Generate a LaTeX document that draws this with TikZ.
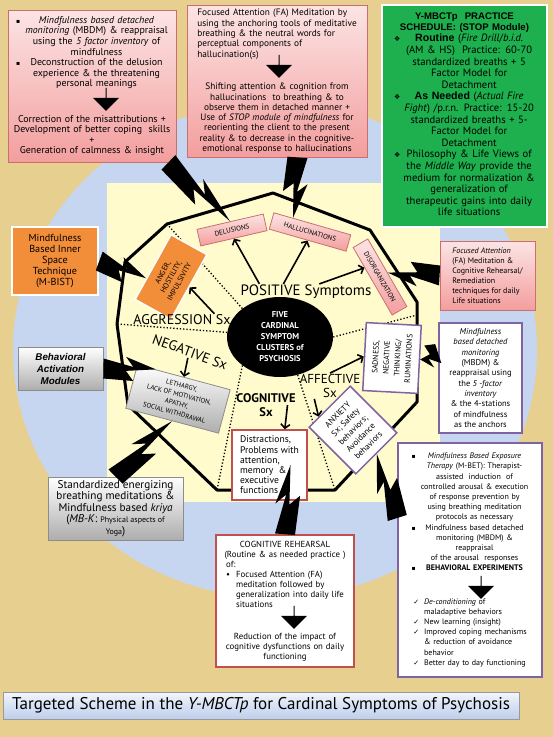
\documentclass[tikz,border=0pt]{standalone}
\usepackage{fontspec}
\setmainfont{PT Sans}
\newfontfamily\glyphfont{DejaVu Sans}
\newfontfamily\arialfont{Liberation Sans}
\usetikzlibrary{arrows.meta, positioning, calc, shapes.geometric, shapes.arrows}

\definecolor{papyrus}{RGB}{231,207,143}
\definecolor{skyblue}{RGB}{198,214,241}
\definecolor{paleyellow}{RGB}{255,251,204}
\definecolor{pinklight}{RGB}{252,228,228}
\definecolor{pinkdark}{RGB}{243,158,158}
\definecolor{pinkline}{RGB}{205,110,110}
\definecolor{leafgreen}{RGB}{30,176,78}
\definecolor{carrot}{RGB}{242,142,58}
\definecolor{lilac}{RGB}{128,100,162}
\definecolor{brick}{RGB}{192,80,77}
\definecolor{titleblue}{RGB}{190,206,236}

\newcommand{\sqb}{{\glyphfont\fontsize{6}{6}\selectfont ▪}}
\newcommand{\diam}{{\glyphfont\fontsize{7}{7}\selectfont ❖}}
\newcommand{\chk}{{\glyphfont\fontsize{7}{7}\selectfont ✓}}

% lightning bolt from #1 to #2
\newcommand{\zap}[2]{%
  \fill ($(#1)!10pt!90:(#2)$) -- ($(#1)!0.57!(#2)!2pt!90:(#2)$)
    -- ($(#1)!0.43!(#2)!12pt!90:(#2)$) -- (#2)
    -- ($(#1)!0.43!(#2)!-2pt!90:(#2)$) -- ($(#1)!0.57!(#2)!-12pt!90:(#2)$)
    -- ($(#1)!-10pt!90:(#2)$) -- cycle;}

\begin{document}
\begin{tikzpicture}[x=1pt, y=-1pt, >={Straight Barb[length=4pt,width=9pt]},
  plainbox/.style={rectangle, align=center, inner sep=3pt, text=black},
  pinkbox/.style={plainbox, draw=pinkline, line width=0.8pt, top color=pinklight, bottom color=pinkdark},
  symtag/.style={pinkbox, inner sep=2pt, minimum height=17pt, font=\fontsize{7}{8}\selectfont},
  greybox/.style={plainbox, draw=black!45, line width=0.8pt, top color=white, bottom color=black!32},
  whitebox/.style={plainbox, fill=white, draw=#1, line width=1.5pt},
  sxlabel/.style={font=\fontsize{14}{16}\selectfont, inner sep=1pt},
  sxarrow/.style={->, line width=1.6pt},
  sector/.style={dotted, line width=1.3pt},
  downarr/.style={single arrow, fill=black, shape border rotate=270, minimum height=23pt,
    minimum width=26pt, single arrow head extend=5pt, inner sep=0pt},
]
  % Background
  \fill[papyrus] (0,0) rectangle (553,737);
  \useasboundingbox (0,0) rectangle (553,737);
  \fill[skyblue] (275,350) ellipse [x radius=262pt, y radius=248pt];
  \fill[paleyellow] (107,183) rectangle (440,502);

  % Octagon
  \coordinate (o1) at (167,224);
  \coordinate (o2) at (273,193);
  \coordinate (o3) at (370,230);
  \coordinate (o4) at (417,302);
  \coordinate (o5) at (417,402);
  \coordinate (o6) at (335,490);
  \coordinate (o7) at (217,490);
  \coordinate (o8) at (128,405);
  \coordinate (o9) at (117,324);
  \coordinate (o10) at (125,262);
  \coordinate (e4) at ($(o4)!0.13!(o5)$);
  \draw[line width=3pt, line join=round] (o1) -- (o2) -- (o3) -- (o4) -- (o5) -- (o6) -- (o7) -- (o8) -- (o9) -- (o10) -- cycle;

  % Centre
  \node[ellipse, fill=black, minimum width=106pt, minimum height=80pt, inner sep=0pt, text=white,
    align=center, font=\bfseries\fontsize{8.5}{11}\selectfont] (core) at (280,337)
    {FIVE\\CARDINAL\\SYMPTOM\\CLUSTERS of\\PSYCHOSIS};
  \draw[sector] (core.north west) -- (o1);
  \draw[sector] (core.175) -- (o9);
  \draw[sector] (core.east) -- (e4);
  \draw[sector] (core.south west) -- (o7);
  \draw[sector] (core.-65) -- (o6);

  % Symptom boxes
  \node[symtag, minimum width=68pt, rotate=13] (delus) at (232,230) {DELUSIONS};
  \node[symtag, minimum width=80pt, rotate=-16] (halluc) at (310,232) {HALLUCINATIONS};
  \node[symtag, minimum width=78pt, rotate=-60] (disorg) at (380,277) {DISORGANIZATION};
  \node[plainbox, fill=carrot, draw=white, line width=1.5pt, minimum width=74pt, minimum height=41pt,
    rotate=61, font=\fontsize{7.5}{9.5}\selectfont] (anger) at (171,277) {ANGER,\\HOSTILITY,\\IMPULSIVITY};
  \node[greybox, minimum width=96pt, minimum height=45pt, rotate=-15, font=\fontsize{6.8}{9.5}\selectfont]
    (leth) at (178,399) {LETHARGY,\\LACK OF MOTIVATION,\\APATHY,\\SOCIAL WITHDRAWAL};
  \node[whitebox=lilac, minimum width=68pt, minimum height=55pt, rotate=87, font=\fontsize{7.8}{11}\selectfont]
    (sad) at (392,358) {SADNESS,\\NEGATIVE\\THINKING/\\RUMINATIONS};
  \node[whitebox=lilac, minimum width=58pt, minimum height=66pt, rotate=45, font=\fontsize{8.5}{10.8}\selectfont]
    (anx) at (353,430) {ANXIETY\\Sx; Safety\\behaviors;\\Avoidance\\behaviors};
  \node[whitebox=brick, minimum width=75pt, minimum height=70pt, align=left, font=\fontsize{9.6}{10.2}\selectfont]
    (distr) at (269.5,465) {Distractions,\\Problems with\\attention,\\memory\ \ \&\\executive\\functions};

  % Cluster labels
  \node[sxlabel, font=\fontsize{15}{17}\selectfont] (pos) at (306,292) {POSITIVE Symptoms};
  \node[sxlabel] (aggr) at (182,320) {AGGRESSION Sx};
  \node[sxlabel, rotate=-20] (neg) at (190,352) {NEGATIVE Sx};
  \node[sxlabel, align=center, font=\bfseries\fontsize{12.5}{14}\selectfont] (cog) at (266,405) {COGNITIVE\\Sx};
  \node[sxlabel, align=center, font=\fontsize{13}{14}\selectfont] (aff) at (330,386) {AFFECTIVE\\Sx};

  % Arrows
  \draw[sxarrow] ($(pos.north west)!0.15!(pos.north east)$) -- (delus.south);
  \draw[sxarrow] ($(pos.north west)!0.33!(pos.north east)$) -- (halluc.south);
  \draw[sxarrow] ($(pos.north west)!0.6!(pos.north east)$) -- ($(disorg.south)!0.4!(disorg.south west)$);
  \draw[sxarrow] ($(aggr.north)!0.65!(aggr.north east)$) -- (anger.south);
  \draw[sxarrow] (neg.south) -- (leth.north);
  \draw[sxarrow] ($(cog.center)!0.7!(cog.east)$) -- ($(distr.north)!0.4!(distr.north east)$);
  \draw[sxarrow] (aff.north) -- (sad.north);
  \draw[sxarrow] ($(aff.south)!0.5!(aff.south west)$) -- ($(anx.north)!0.5!(anx.north west)$);

  % Outer boxes
  \node[pinkbox, minimum width=168pt, minimum height=152pt, text width=162pt, inner sep=2pt,
    font=\fontsize{9.9}{10.6}\selectfont] (delbox) at (92,86) {%
    \begin{tabular}{@{}l@{\hspace{5pt}}c@{}}
    \sqb & \textit{Mindfulness based detached}\\
     & \textit{monitoring} (MBDM) \& reappraisal\\
     & using the \textit{5 factor inventory} of\\
     & mindfulness\\
    \sqb & Deconstruction of the delusion\\
     & experience \& the threatening\\
     & personal meanings
    \end{tabular}\\[24pt]
    Correction of the misattributions +\\
    Development of better coping\ \ skills\\
    +\\
    Generation of calmness \& insight};
  \node[downarr] (darrA) at (106,99) {};

  \node[pinkbox, minimum width=180pt, minimum height=152pt, text width=176pt, inner sep=2pt,
    font=\fontsize{9.3}{10.3}\selectfont] (hallbox) at (277,81) {%
    \begin{tabular}{@{}l@{}}
    Focused Attention (FA) Meditation by\\
    using the anchoring tools of meditative\\
    breathing \& the neutral words for\\
    perceptual components of\\
    hallucination(s)
    \end{tabular}\\[22pt]
    Shifting attention \& cognition from\\
    hallucinations\ \ to breathing \& to\\
    observe them in detached manner +\\
    Use of \textit{STOP module of mindfulness} for\\
    reorienting the client to the present\\
    reality \& to decrease in the cognitive-\\
    emotional response to hallucinations};
  \node[downarr] (darrB) at (279,66) {};

  \node[plainbox, fill=leafgreen, draw=white, line width=2.5pt, inner sep=2pt, minimum width=165pt,
    minimum height=222pt, text width=158pt, font=\fontsize{10.6}{11.6}\selectfont] (sched) at (464.5,116) {%
    {\arialfont\bfseries\fontsize{9.6}{12}\selectfont Y-MBCTp\ \ PRACTICE\\SCHEDULE: (STOP Module)}\\
    \begin{tabular}{@{}l@{\hspace{3pt}}c@{}}
    \diam & {\arialfont\bfseries Routine} (\textit{Fire Drill}/\textit{b.i.d.}\\
     & (AM \& HS)\ \ Practice: 60-70\\
     & standardized breaths + 5\\
     & Factor Model for\\
     & Detachment\\
    \diam & {\arialfont\bfseries As Needed} (\textit{Actual Fire}\\
     & \textit{Fight}) /p.r.n. Practice: 15-20\\
     & standardized breaths + 5-\\
     & Factor Model for\\
     & Detachment\\
    \diam & Philosophy \& Life Views of\\
     & the \textit{Middle Way} provide the\\
     & medium for normalization \&\\
     & generalization of\\
     & therapeutic gains into daily\\
     & life situations
    \end{tabular}};

  \node[plainbox, fill=carrot, draw=white, line width=2.5pt, minimum width=86pt, minimum height=68pt,
    font=\fontsize{10.2}{11}\selectfont] (mbist) at (55,261) {Mindfulness\\Based Inner\\Space\\Technique\\(M-BIST)};
  \node[greybox, minimum width=85pt, minimum height=43pt, font=\arialfont\bfseries\itshape\fontsize{9.8}{12}\selectfont]
    (behav) at (60.5,368.5) {Behavioral\\Activation\\Modules};
  \node[greybox, minimum width=135pt, minimum height=63pt, font=\fontsize{11.2}{11.5}\selectfont] (energ) at (115.5,508.5)
    {Standardized energizing\\breathing meditations \&\\Mindfulness based \textit{kriya}\\
     (\textit{MB-K}: {\fontsize{8}{10}\selectfont Physical aspects of}\\{\fontsize{8}{10}\selectfont Yoga})};
  \node[pinkbox, minimum width=95pt, minimum height=69pt, align=left, font=\fontsize{8}{10}\selectfont]
    (fabox) at (487.5,275.5) {\textit{Focused Attention}\\(FA) Meditation \&\\Cognitive Rehearsal/\\Remediation\\
     techniques for daily\\Life situations};
  \node[whitebox=lilac, minimum width=83pt, minimum height=110pt, font=\fontsize{8.5}{10.3}\selectfont]
    (mbdm) at (480.5,378) {\textit{Mindfulness}\\\textit{based detached}\\\textit{monitoring}\\(MBDM) \&\\
     reappraisal using\\the \textit{5 -factor}\\\textit{inventory}\\\& the 4-stations\\of mindfulness\\as the anchors};

  \node[whitebox=lilac, minimum width=144pt, minimum height=234pt, text width=138pt, inner sep=2pt,
    font=\fontsize{8}{10.2}\selectfont] (mbet) at (470,560) {%
    \begin{tabular}{@{}l@{\hspace{5pt}}c@{}}
    \sqb & \textit{Mindfulness Based Exposure}\\
     & \textit{Therapy} (M-BET): Therapist-\\
     & assisted\ \ induction\ \ of\\
     & controlled arousal \& execution\\
     & of response prevention by\\
     & using breathing meditation\\
     & protocols as necessary\\
    \sqb & Mindfulness based detached\\
     & monitoring (MBDM) \&\\
     & reappraisal\\
     & of the arousal\ \ responses\\
    \sqb & \textbf{BEHAVIORAL EXPERIMENTS}
    \end{tabular}\\[22pt]
    \begin{tabular}{@{}l@{\hspace{5pt}}l@{}}
    \chk & \textit{De-conditioning} of\\
     & maladaptive behaviors\\
    \chk & New learning (insight)\\
    \chk & Improved coping mechanisms\\
     & \& reduction of avoidance\\
     & behavior\\
    \chk & Better day to day functioning
    \end{tabular}};
  \node[downarr] (darrC) at (481,587) {};

  \node[whitebox=brick, minimum width=138pt, minimum height=132pt, text width=132pt, inner sep=2pt,
    font=\fontsize{8.8}{10}\selectfont] (rehearse) at (285,601) {%
    COGNITIVE REHEARSAL\\
    (Routine \& as needed practice )\\
    \begin{tabular}{@{}l@{\hspace{6pt}}l@{}}
    \multicolumn{2}{@{}l}{of:}\\
    \textbullet & Focused Attention (FA)\\
     & meditation followed by\\
     & generalization into daily life\\
     & situations
    \end{tabular}\\[22pt]
    Reduction of the impact of\\cognitive dysfunctions on daily\\functioning};
  \node[downarr] (darrD) at (294,617) {};

  % Bolts
  \coordinate (hallTip) at ($(halluc.north)!0.5!(halluc.north west)$);
  \coordinate (angTip) at ($(anger.north)!0.35!(anger.north west)$);
  \coordinate (lethTip) at ($(leth.north)!0.6!(leth.north west)$);
  \coordinate (distTip) at ($(distr.center)!0.55!(distr.east)$);
  \zap{delbox.-45}{delus.north}
  \zap{hallbox.-75}{hallTip}
  \zap{fabox.west}{disorg.north}
  \zap{mbist.east}{angTip}
  \zap{behav.east}{lethTip}
  \zap{energ.north}{leth.south}
  \zap{mbdm.150}{sad.south}
  \zap{mbet.150}{anx.south}
  \zap{rehearse.north}{distTip}

  % Title
  \node[plainbox, draw=black!40, line width=0.8pt, top color=white!80!titleblue, bottom color=titleblue,
    minimum width=516pt, minimum height=27pt, font=\fontsize{17}{18}\selectfont] (title) at (261,705.5)
    {Targeted Scheme in the \textit{Y-MBCTp} for Cardinal Symptoms of Psychosis};
\end{tikzpicture}
\end{document}
